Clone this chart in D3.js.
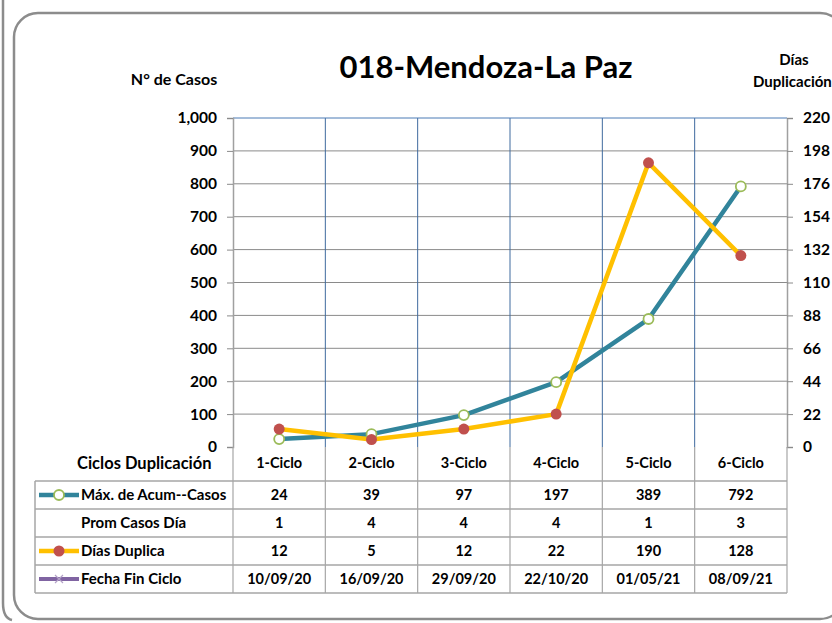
<!DOCTYPE html>
<html>
<head>
<meta charset="utf-8">
<script src="https://cdn.jsdelivr.net/npm/d3@7"></script>
<style>
  body { margin: 0; background: #fff; }
  svg { display: block; font-family: Lato, "Open Sans", sans-serif; font-weight: bold; }
</style>
</head>
<body>
<div id="chart"></div>
<script>
// Chart data
const ciclos = ["1-Ciclo", "2-Ciclo", "3-Ciclo", "4-Ciclo", "5-Ciclo", "6-Ciclo"];
const maxCasos = [24, 39, 97, 197, 389, 792];
const promCasosDia = [1, 4, 4, 4, 1, 3];
const diasDuplica = [12, 5, 12, 22, 190, 128];
const fechaFin = ["10/09/20", "16/09/20", "29/09/20", "22/10/20", "01/05/21", "08/09/21"];
const leftTicks = [0, 100, 200, 300, 400, 500, 600, 700, 800, 900, 1000];
const rightTicks = [0, 22, 44, 66, 88, 110, 132, 154, 176, 198, 220];

const W = 832, H = 623;
const plot = {left: 233, right: 787, top: 118, bottom: 447};

const svg = d3.select("#chart").append("svg")
  .attr("width", W)
  .attr("height", H);

// Outer panel frames
svg.append("path")
  .attr("d", "M3,0 L3,603 Q3,618 12,620")
  .attr("fill", "none").attr("stroke", "#8c8c8c").attr("stroke-width", 2.5);
svg.append("rect")
  .attr("x", 14).attr("y", 13)
  .attr("width", 830).attr("height", 606)
  .attr("rx", 24).attr("ry", 24)
  .attr("fill", "#fff").attr("stroke", "#8c8c8c").attr("stroke-width", 2.5);

// Scales
const x = d3.scaleBand().domain(ciclos).range([plot.left, plot.right]);
const yLeft = d3.scaleLinear().domain([0, 1000]).range([plot.bottom, plot.top]);
const yRight = d3.scaleLinear().domain([0, 220]).range([plot.bottom, plot.top]);

// Horizontal gridlines
svg.append("g").selectAll("line")
  .data(leftTicks.slice(1, -1))
  .join("line")
  .attr("x1", plot.left).attr("x2", plot.right)
  .attr("y1", d => yLeft(d)).attr("y2", d => yLeft(d))
  .attr("stroke", "#8a8a8a").attr("stroke-width", 1);

// Vertical category lines (blue)
const inner = ciclos.slice(1).map(c => x(c));
svg.append("g").selectAll("line")
  .data(inner)
  .join("line")
  .attr("x1", d => d).attr("x2", d => d)
  .attr("y1", plot.top).attr("y2", plot.bottom)
  .attr("stroke", "#3f6a9e").attr("stroke-width", 1);

// top border
svg.append("line")
  .attr("x1", plot.left).attr("x2", plot.right)
  .attr("y1", plot.top).attr("y2", plot.top)
  .attr("stroke", "#4a7ab5").attr("stroke-width", 1);

// Axes
const axL = svg.append("g")
  .attr("transform", `translate(${plot.left},0)`)
  .call(d3.axisLeft(yLeft).tickValues(leftTicks).tickFormat(d3.format(",")).tickSize(6).tickPadding(10));
const axR = svg.append("g")
  .attr("transform", `translate(${plot.right},0)`)
  .call(d3.axisRight(yRight).tickValues(rightTicks).tickSize(6).tickPadding(10));
[axL, axR].forEach(ax => {
  ax.select(".domain").attr("stroke", "#a0a0a0").attr("stroke-width", 1.5);
  ax.selectAll(".tick line").attr("stroke", "#8a8a8a");
  ax.selectAll(".tick text")
    .attr("fill", "#000")
    .style("font-family", "Lato, sans-serif")
    .style("font-weight", "bold")
    .style("font-size", "15.5px");
});

// Axis titles and chart title
svg.append("text").attr("x", 486).attr("y", 78)
  .attr("text-anchor", "middle").style("font-size", "31px").text("018-Mendoza-La Paz");
svg.append("text").attr("x", 174).attr("y", 85)
  .attr("text-anchor", "middle").style("font-size", "16px").text("N° de Casos");
svg.append("text").attr("x", 794).attr("y", 65)
  .attr("text-anchor", "middle").style("font-size", "15px").text("Días");
svg.append("text").attr("x", 753).attr("y", 87)
  .attr("text-anchor", "start").style("font-size", "15px").text("Duplicación");

// Series lines
const cx = d => x(d) + x.bandwidth() / 2;

const lineCasos = d3.line().x((d, i) => cx(ciclos[i])).y(d => yLeft(d));
const lineDias = d3.line().x((d, i) => cx(ciclos[i])).y(d => yRight(d));

svg.append("path").datum(maxCasos)
  .attr("d", lineCasos)
  .attr("fill", "none").attr("stroke", "#31849b").attr("stroke-width", 4.5)
  .attr("stroke-linejoin", "round");
svg.append("path").datum(diasDuplica)
  .attr("d", lineDias)
  .attr("fill", "none").attr("stroke", "#ffc000").attr("stroke-width", 4.5)
  .attr("stroke-linejoin", "round");

svg.append("g").selectAll("circle")
  .data(maxCasos)
  .join("circle")
  .attr("cx", (d, i) => cx(ciclos[i])).attr("cy", d => yLeft(d))
  .attr("r", 5).attr("fill", "#fff").attr("stroke", "#9bbb59").attr("stroke-width", 1.8);
svg.append("g").selectAll("circle")
  .data(diasDuplica)
  .join("circle")
  .attr("cx", (d, i) => cx(ciclos[i])).attr("cy", d => yRight(d))
  .attr("r", 5.5).attr("fill", "#c0504d");

// Data table
const rowY = [447, 481, 509, 537, 565, 593];
const tableLeft = 35;
const tbl = svg.append("g");

// horizontal table lines
tbl.selectAll("line.h")
  .data(rowY.slice(1))
  .join("line")
  .attr("class", "h")
  .attr("x1", tableLeft).attr("x2", plot.right)
  .attr("y1", d => d).attr("y2", d => d)
  .attr("stroke", "#a6a6a6").attr("stroke-width", 1.5);
// vertical table lines
const vx = [plot.left].concat(inner, [plot.right]);
tbl.selectAll("line.v")
  .data(vx)
  .join("line")
  .attr("class", "v")
  .attr("x1", d => d).attr("x2", d => d)
  .attr("y1", rowY[0]).attr("y2", rowY[5])
  .attr("stroke", "#a6a6a6").attr("stroke-width", 1.2);
tbl.append("line")
  .attr("x1", tableLeft).attr("x2", tableLeft)
  .attr("y1", rowY[1]).attr("y2", rowY[5])
  .attr("stroke", "#a6a6a6").attr("stroke-width", 1.5);

// header row
tbl.append("text").attr("x", 77).attr("y", 469)
  .style("font-size", "16.5px").text("Ciclos Duplicación");
tbl.selectAll("text.hdr")
  .data(ciclos)
  .join("text")
  .attr("class", "hdr")
  .attr("x", d => cx(d)).attr("y", 468)
  .attr("text-anchor", "middle").style("font-size", "14.5px")
  .text(d => d);

const rows = [
  {label: "Máx. de Acum--Casos", values: maxCasos, key: "casos"},
  {label: "Prom Casos Día", values: promCasosDia, key: null},
  {label: "Días Duplica", values: diasDuplica, key: "dias"},
  {label: "Fecha Fin Ciclo", values: fechaFin, key: "fecha"}
];

rows.forEach((r, ri) => {
  const ym = (rowY[ri + 1] + rowY[ri + 2]) / 2;
  tbl.append("text").attr("x", 81).attr("y", ym + 5)
    .style("font-size", "15px").text(r.label);
  tbl.selectAll(null)
    .data(r.values)
    .join("text")
    .attr("x", (d, i) => cx(ciclos[i])).attr("y", ym + 5)
    .attr("text-anchor", "middle").style("font-size", "14.5px")
    .text(d => d);

  // legend keys
  if (r.key === "casos") {
    tbl.append("line").attr("x1", 39).attr("x2", 79).attr("y1", ym).attr("y2", ym)
      .attr("stroke", "#31849b").attr("stroke-width", 4.5);
    tbl.append("circle").attr("cx", 59).attr("cy", ym).attr("r", 5)
      .attr("fill", "#fff").attr("stroke", "#9bbb59").attr("stroke-width", 1.8);
  } else if (r.key === "dias") {
    tbl.append("line").attr("x1", 39).attr("x2", 79).attr("y1", ym).attr("y2", ym)
      .attr("stroke", "#ffc000").attr("stroke-width", 4.5);
    tbl.append("circle").attr("cx", 59).attr("cy", ym).attr("r", 5.5)
      .attr("fill", "#c0504d");
  } else if (r.key === "fecha") {
    tbl.append("line").attr("x1", 39).attr("x2", 79).attr("y1", ym).attr("y2", ym)
      .attr("stroke", "#8064a2").attr("stroke-width", 4);
    tbl.append("path")
      .attr("d", `M${55},${ym - 4} L${63},${ym + 4} M${55},${ym + 4} L${63},${ym - 4}`)
      .attr("stroke", "#b3a2c7").attr("stroke-width", 1.2);
  }
});
</script>
</body>
</html>
